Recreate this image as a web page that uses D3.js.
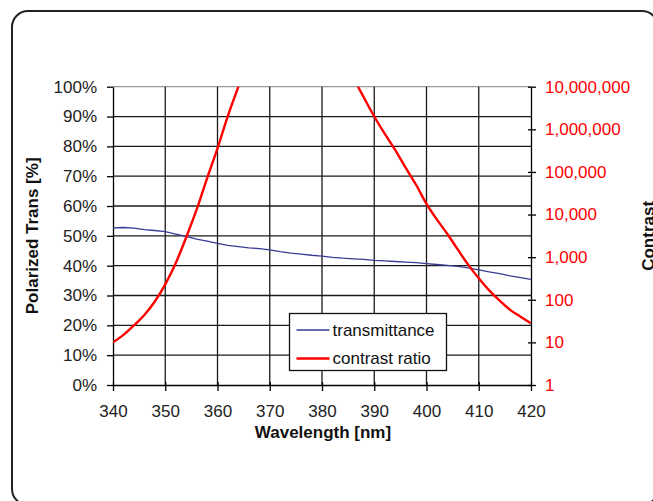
<!DOCTYPE html>
<html>
<head>
<meta charset="utf-8">
<script src="https://cdn.jsdelivr.net/npm/d3@7"></script>
<style>
  html, body { margin: 0; padding: 0; background: #fff; }
  svg { display: block; font-family: "Liberation Sans", Arial, sans-serif; }
</style>
</head>
<body>
<svg id="chart" width="653" height="501"></svg>
<script>
// Wavelength sampling (nm) for the polarized transmittance curve
const transWavelengths = [340,342,344,346,348,350,352,354,356,358,360,362,364,366,368,370,372,374,376,378,380,
                          382,384,386,388,390,392,394,396,398,400,402,404,406,408,410,412,414,416,418,420];
// Polarized transmittance (%)
const transmittance = [52.7,52.8,52.6,52.1,51.8,51.4,50.6,49.8,48.9,48.2,47.5,46.8,46.4,46.0,45.7,45.3,44.7,44.2,43.9,43.5,43.2,
                       42.8,42.5,42.3,42.1,41.8,41.6,41.4,41.2,41.0,40.7,40.4,40.1,39.8,39.3,38.6,37.9,37.3,36.6,36.0,35.4];

// Contrast ratio, short-wavelength side of the band
const contrastLowNm = [340,342,344,346,348,350,352,354,356,358,360,362,364,366];
const contrastLow   = [10,15,25,44,91,230,720,2900,13000,71000,355000,2100000,10000000,45000000];
// Contrast ratio, long-wavelength side of the band
const contrastHighNm = [386,388,390,392,394,396,398,400,402,404,406,408,410,412,414,416,418,420];
const contrastHigh   = [16000000,5600000,2000000,790000,330000,126000,50000,17800,7600,3500,1500,660,320,166,95,58,40,28];

// Axis ticks
const wavelengthTicks = [340,350,360,370,380,390,400,410,420];
const percentTicks = [0,10,20,30,40,50,60,70,80,90,100];
const contrastTicks = [1,10,100,1000,10000,100000,1000000,10000000];

const svg = d3.select("#chart");
const plot = { left: 113, right: 531, top: 86.7, bottom: 385 };

const x = d3.scaleLinear().domain([340, 420]).range([plot.left, plot.right]);
const yL = d3.scaleLinear().domain([0, 100]).range([plot.bottom, plot.top]);
const yR = d3.scaleLog().domain([1, 1e7]).range([plot.bottom, plot.top]);

// Outer rounded frame
svg.append("rect")
  .attr("x", 12).attr("y", 11).attr("width", 646).attr("height", 494)
  .attr("rx", 16).attr("ry", 16)
  .attr("fill", "#fff").attr("stroke", "#222").attr("stroke-width", 2);

// Plot area outline (top edge)
svg.append("line")
  .attr("x1", plot.left).attr("x2", plot.right)
  .attr("y1", plot.top).attr("y2", plot.top)
  .attr("stroke", "#999").attr("stroke-width", 1.3);

// Grid
const grid = svg.append("g").attr("stroke", "#1a1a1a").attr("stroke-width", 1.3);
grid.selectAll("line.h")
  .data(percentTicks.filter(d => d > 0 && d < 100))
  .join("line")
  .attr("x1", plot.left).attr("x2", plot.right)
  .attr("y1", d => yL(d)).attr("y2", d => yL(d));
grid.selectAll("line.v")
  .data(wavelengthTicks.filter(d => d > 340 && d < 420))
  .join("line")
  .attr("x1", d => x(d)).attr("x2", d => x(d))
  .attr("y1", plot.top).attr("y2", plot.bottom);

function styleAxis(g, color) {
  g.select(".domain").attr("stroke", "#000").attr("stroke-width", 1.3);
  g.selectAll(".tick line").attr("stroke", "#000").attr("stroke-width", 1.3);
  g.selectAll(".tick text").attr("fill", color).attr("font-size", 17)
    .attr("font-family", "'Liberation Sans', Arial, sans-serif");
}

// Left axis (percent)
const gL = svg.append("g")
  .attr("transform", `translate(${plot.left},0)`)
  .call(d3.axisLeft(yL).tickValues(percentTicks).tickFormat(d => d + "%")
        .tickSizeInner(6).tickSizeOuter(0).tickPadding(10));
styleAxis(gL, "#222");

// Right axis (contrast ratio, log)
const gR = svg.append("g")
  .attr("transform", `translate(${plot.right},0)`)
  .call(d3.axisRight(yR).tickValues(contrastTicks).tickFormat(d3.format(","))
        .tickSizeInner(5).tickSizeOuter(0).tickPadding(9));
styleAxis(gR, "#f00");
gR.selectAll(".tick line").attr("x1", -3);

// Bottom axis (wavelength)
const gB = svg.append("g")
  .attr("transform", `translate(0,${plot.bottom})`)
  .call(d3.axisBottom(x).tickValues(wavelengthTicks)
        .tickSizeInner(6).tickSizeOuter(0).tickPadding(14));
styleAxis(gB, "#222");
gB.selectAll(".tick line").attr("y1", -3);

// Curves
svg.append("clipPath").attr("id", "plotClip")
  .append("rect")
  .attr("x", plot.left).attr("y", plot.top)
  .attr("width", plot.right - plot.left).attr("height", plot.bottom - plot.top);

const transLine = d3.line().x(d => x(d[0])).y(d => yL(d[1]));
svg.append("path")
  .datum(d3.zip(transWavelengths, transmittance))
  .attr("d", transLine)
  .attr("fill", "none").attr("stroke", "#3a3a96").attr("stroke-width", 1.3);

const contrastLine = d3.line().x(d => x(d[0])).y(d => yR(d[1])).curve(d3.curveMonotoneX);
const curves = svg.append("g").attr("clip-path", "url(#plotClip)");
[[contrastLowNm, contrastLow], [contrastHighNm, contrastHigh]].forEach(([nm, v]) => {
  curves.append("path")
    .datum(d3.zip(nm, v))
    .attr("d", contrastLine)
    .attr("fill", "none").attr("stroke", "#f00").attr("stroke-width", 2.4)
    .attr("stroke-linejoin", "round");
});

// Axis titles
svg.append("text")
  .attr("transform", `translate(38,${(plot.top + plot.bottom) / 2}) rotate(-90)`)
  .attr("text-anchor", "middle").attr("font-size", 17).attr("font-weight", "bold")
  .attr("fill", "#111")
  .text("Polarized Trans [%]");

svg.append("text")
  .attr("x", (plot.left + plot.right) / 2 + 1).attr("y", 438)
  .attr("text-anchor", "middle").attr("font-size", 17).attr("font-weight", "bold")
  .attr("fill", "#111")
  .text("Wavelength [nm]");

svg.append("text")
  .attr("transform", `translate(654,${(plot.top + plot.bottom) / 2}) rotate(-90)`)
  .attr("text-anchor", "middle").attr("font-size", 17).attr("font-weight", "bold")
  .attr("fill", "#111")
  .text("Contrast");

// Legend
const legend = svg.append("g").attr("transform", "translate(289.5,313.5)");
legend.append("rect")
  .attr("width", 157).attr("height", 57)
  .attr("fill", "#fff").attr("stroke", "#111").attr("stroke-width", 1.3);
const legendItems = [
  { label: "transmittance", color: "#3a3a96", width: 1.5 },
  { label: "contrast ratio", color: "#f00", width: 2.4 }
];
legendItems.forEach((item, i) => {
  const yy = 16.5 + i * 28.5;
  legend.append("line")
    .attr("x1", 7).attr("x2", 40).attr("y1", yy).attr("y2", yy)
    .attr("stroke", item.color).attr("stroke-width", item.width);
  legend.append("text")
    .attr("x", 43).attr("y", yy).attr("dy", "0.35em")
    .attr("font-size", 17).attr("fill", "#111")
    .text(item.label);
});
</script>
</body>
</html>
